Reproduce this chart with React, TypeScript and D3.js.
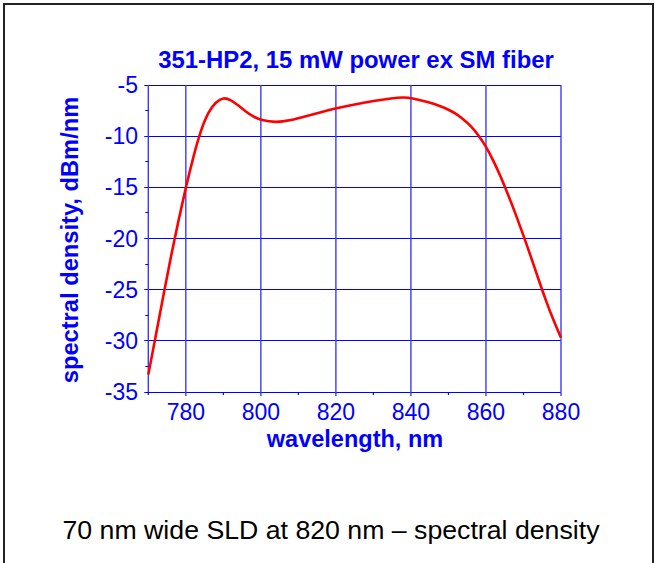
import React from "react";
import * as d3 from "d3";

const wavelengths = [770, 772, 774, 776, 778, 780, 782, 784, 786, 788, 790, 792, 794, 796, 798, 800, 804, 808, 812, 816, 820, 825, 830, 835, 838, 840, 845, 848, 850, 852, 854, 856, 858, 860, 862, 864, 866, 868, 870, 872, 874, 876, 878, 880];
const density = [-33.3, -29.5, -25.6, -21.8, -18.3, -15.0, -12.0, -9.4, -7.6, -6.65, -6.2, -6.45, -7.0, -7.6, -8.1, -8.45, -8.68, -8.45, -8.05, -7.65, -7.28, -6.9, -6.55, -6.3, -6.2, -6.25, -6.7, -7.1, -7.4, -7.8, -8.35, -9.0, -9.9, -11.0, -12.4, -14.0, -15.8, -17.7, -19.7, -21.8, -24.0, -26.1, -28.0, -29.7];
const xTicks = [780, 800, 820, 840, 860, 880];
const xMinor = [770, 790, 810, 830, 850, 870];
const yTicks = [-5, -10, -15, -20, -25, -30, -35];
const yMinor = [-7.5, -12.5, -17.5, -22.5, -27.5, -32.5];
const title = "351-HP2, 15 mW power ex SM fiber";
const xLabel = "wavelength, nm";
const yLabel = "spectral density, dBm/nm";
const caption = "70 nm wide SLD at 820 nm \u2013 spectral density";

const BLUE = "#0000ff";
const FONT = "'Liberation Sans', Arial, sans-serif";

export default function App() {
  const x = d3.scaleLinear().domain([770, 880]).range([148.3, 561]);
  const y = d3.scaleLinear().domain([-5, -35]).range([85, 392]);
  const hy = (v: number) => Math.floor(y(v)) + 0.5;
  const pts: [number, number][] = wavelengths.map((w, i) => [w, density[i]]);
  const line = d3
    .line<[number, number]>()
    .x((d) => x(d[0]))
    .y((d) => y(d[1]))
    .curve(d3.curveBasis);

  return (
    <svg
      width={655}
      height={563}
      style={{ position: "absolute", left: 0, top: 0, background: "#fff" }}
      fontFamily={FONT}
    >
      <rect x={4} y={4} width={649} height={570} fill="#fff" stroke="#222" strokeWidth={2} />
      {/* horizontal gridlines */}
      {yTicks.map((t) => (
        <line key={"hg" + t} x1={x(770) - 4} x2={x(880)} y1={hy(t)} y2={hy(t)} stroke={BLUE} strokeWidth={1} />
      ))}
      {/* vertical gridlines and axis lines */}
      {[770, ...xTicks].map((t) => (
        <line key={"vg" + t} x1={x(t)} x2={x(t)} y1={y(-5)} y2={y(-35) + (t === 770 ? 0 : 4)} stroke="#3a3aff" strokeWidth={1.4} />
      ))}
      {yMinor.map((t) => (
        <line key={"ym" + t} x1={x(770) - 3} x2={x(770)} y1={hy(t)} y2={hy(t)} stroke={BLUE} strokeWidth={1} />
      ))}
      {xMinor.map((t) => (
        <line key={"xm" + t} x1={x(t)} x2={x(t)} y1={y(-35)} y2={y(-35) + 3} stroke={BLUE} strokeWidth={1.2} />
      ))}
      {/* curve */}
      <path d={line(pts) || ""} fill="none" stroke="#ff0000" strokeWidth={2.6} strokeLinejoin="round" />
      {/* y tick labels */}
      {yTicks.map((t) => (
        <text key={"yl" + t} x={138} y={y(t) + 8} textAnchor="end" fontSize={23} fill={BLUE}>
          {t}
        </text>
      ))}
      {/* x tick labels */}
      {xTicks.map((t) => (
        <text key={"xl" + t} x={x(t)} y={420} textAnchor="middle" fontSize={23} fill={BLUE}>
          {t}
        </text>
      ))}
      <text x={356} y={68} textAnchor="middle" fontSize={23.9} fontWeight="bold" fill={BLUE}>
        {title}
      </text>
      <text x={355} y={447} textAnchor="middle" fontSize={23.5} fontWeight="bold" fill={BLUE}>
        {xLabel}
      </text>
      <text
        transform="translate(78,240) rotate(-90)"
        textAnchor="middle"
        fontSize={23.7}
        fontWeight="bold"
        fill={BLUE}
      >
        {yLabel}
      </text>
      <text x={331} y={539} textAnchor="middle" fontSize={26.7} fill="#000">
        {caption}
      </text>
    </svg>
  );
}
